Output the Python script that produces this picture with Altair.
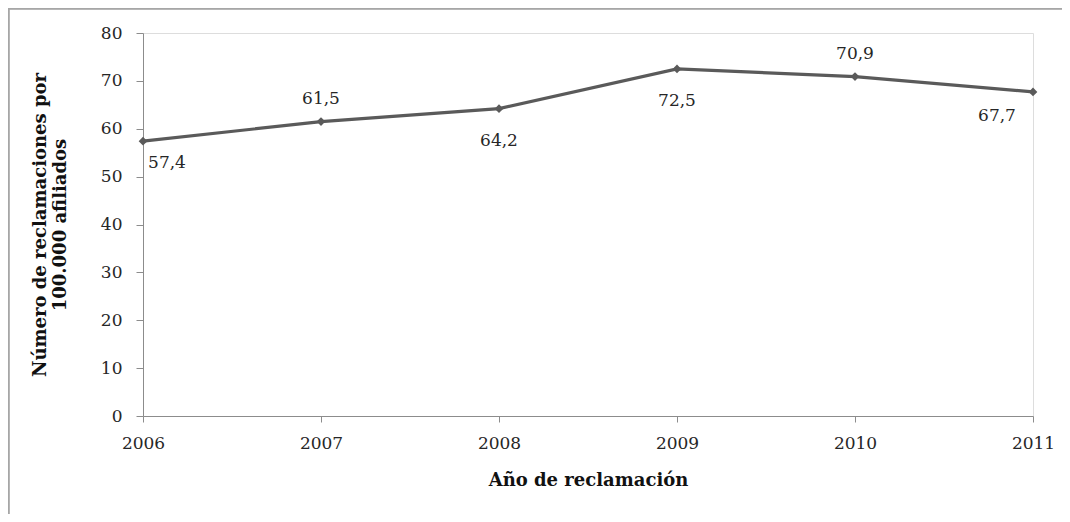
import altair as alt
import pandas as pd

years = [2006, 2007, 2008, 2009, 2010, 2011]
values = [57.4, 61.5, 64.2, 72.5, 70.9, 67.7]
labels = ["57,4", "61,5", "64,2", "72,5", "70,9", "67,7"]

df = pd.DataFrame({"year": years, "value": values, "label": labels})

FONT = "DejaVu Serif"
LINE = "#5a5a5a"
AXIS = "#8c8c8c"
TXT = "#262626"

W, H = 890, 383
PL, PT, PR, PB = 135, 25, 29, 98

base = alt.Chart(df)

x = alt.X("year:Q", scale=alt.Scale(domain=[2006, 2011], nice=False, zero=False),
          axis=alt.Axis(values=years, format="d", title="Año de reclamación",
                        grid=False, tickSize=6, labelPadding=13, titlePadding=20,
                        labelFlush=False, labelBound=False,
                        domainColor=AXIS, tickColor=AXIS, labelFontSize=17,
                        titleFontSize=18, titleFontWeight="bold", labelColor=TXT,
                        titleColor="#111111", labelFont=FONT, titleFont=FONT))
y = alt.Y("value:Q", scale=alt.Scale(domain=[0, 80], nice=False),
          axis=alt.Axis(values=list(range(0, 81, 10)),
                        title=["Número de reclamaciones por", "100.000 afiliados"],
                        grid=False, tickSize=7, labelPadding=14, titlePadding=31,
                        domainColor=AXIS, tickColor=AXIS, labelFontSize=17,
                        titleFontSize=18, titleFontWeight="bold", labelColor=TXT,
                        titleColor="#111111", labelFont=FONT, titleFont=FONT,
                        titleLineHeight=20))

line = base.mark_line(color=LINE, strokeWidth=3.2).encode(x=x, y=y)
pts = base.mark_point(shape="diamond", filled=True, color=LINE, size=75, opacity=1).encode(x=x, y=y)

def lab(yrs, dx, dy):
    return base.transform_filter(
        alt.FieldOneOfPredicate(field="year", oneOf=yrs)
    ).mark_text(font=FONT, fontSize=17, color=TXT, dx=dx, dy=dy).encode(
        x="year:Q", y="value:Q", text="label:N")

lab_first = lab([2006], 24, 22)
lab_above = lab([2007, 2010], 0, -23)
lab_below = lab([2008, 2009], 0, 32)
lab_last = lab([2011], -36, 24)

top_rule = alt.Chart(df).mark_rule(color="#a6a6a6", strokeWidth=1.5).encode(
    x=alt.value(-PL + 0.5), x2=alt.value(W + PR + 40), y=alt.value(-PT + 0.5))
left_rule = alt.Chart(df).mark_rule(color="#a6a6a6", strokeWidth=1.5).encode(
    x=alt.value(-PL + 0.5), y=alt.value(-PT + 0.5), y2=alt.value(H + PB + 40))

chart = alt.layer(top_rule, left_rule, line, pts, lab_first, lab_above, lab_below, lab_last).properties(
    width=W, height=H,
    autosize=alt.AutoSizeParams(type="none"),
    padding={"left": PL, "top": PT, "right": PR, "bottom": PB},
).configure_view(stroke=None).configure(background="white")

chart.save("out.html", embed_options={"renderer": "svg", "actions": False})
